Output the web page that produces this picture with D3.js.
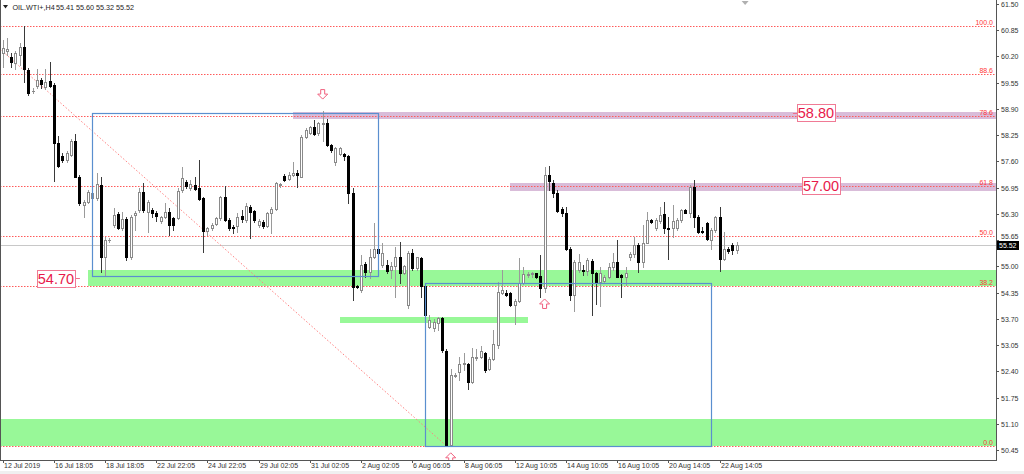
<!DOCTYPE html>
<html><head><meta charset="utf-8">
<script src="https://cdn.jsdelivr.net/npm/d3@7"></script>
<style>
html,body{margin:0;padding:0;background:#fff;}
svg{display:block;}
text{font-family:"Liberation Sans",Arial,sans-serif;}
</style></head><body>
<svg id="c" width="1024" height="474"></svg>
<script>
// ---------------- data ----------------
const symbolLabel = "OIL.WTI+,H4";
const lastQuote = [55.41, 55.60, 55.32, 55.52]; // O H L C of current bar

const opens = [60.28,60.32,60.19,60.04,60.23,60.44,59.86,59.33,59.47,59.61,
59.45,59.59,59.49,58.05,57.73,57.63,57.76,58.09,57.22,56.52,
56.60,56.68,56.68,57.01,55.24,55.64,56.02,56.29,55.94,56.17,
55.22,56.26,56.39,56.85,56.35,56.39,56.33,56.11,56.23,56.35,
56.19,56.19,56.89,57.09,56.95,57.01,56.95,56.68,55.88,55.94,
56.05,56.19,56.72,56.15,55.98,56.00,56.24,56.15,56.48,56.37,
56.02,56.10,56.00,56.31,56.42,57.01,57.24,57.15,57.26,57.30,
57.22,58.21,58.31,58.44,58.29,58.52,58.56,58.00,57.57,57.78,
57.78,57.73,56.81,54.51,54.40,55.06,54.87,55.24,55.44,55.03,
55.03,54.91,55.01,55.24,54.83,54.04,55.32,54.95,55.20,54.50,
53.50,53.46,53.59,53.71,52.91,50.57,52.28,52.39,52.58,52.58,
52.14,52.72,52.76,52.84,52.45,52.70,53.05,54.35,54.35,54.33,
54.04,54.15,54.59,54.78,54.80,54.83,54.76,54.45,57.26,57.07,
56.82,56.43,56.31,55.44,54.29,54.91,54.92,54.89,55.14,54.83,
54.62,54.64,54.74,54.97,55.11,54.78,54.74,55.22,55.30,55.53,
55.11,55.58,56.15,55.94,56.13,56.30,55.96,55.94,55.94,56.15,
56.39,56.33,56.96,56.23,55.88,56.06,55.65,55.90,56.23,55.17,
55.44,55.53,55.41];
const highs = [60.60,60.65,60.27,60.34,60.54,60.95,59.90,59.41,59.88,59.66,
59.88,60.07,59.53,58.23,57.80,57.86,58.15,58.28,57.26,56.64,
56.89,56.85,57.32,57.22,55.73,55.69,56.44,56.35,56.35,56.23,
56.27,56.38,56.93,57.05,56.64,56.44,56.38,56.25,56.56,56.44,
56.23,56.93,57.47,57.13,57.14,57.22,57.63,56.71,55.98,56.06,
56.23,56.74,56.99,56.19,56.02,56.31,56.39,56.56,56.52,56.39,
56.16,56.15,56.35,56.48,57.09,57.07,57.28,57.34,57.57,57.38,
58.25,58.42,58.47,58.61,58.58,58.85,58.64,58.04,57.96,57.96,
57.81,57.76,56.93,54.54,55.28,55.11,55.42,56.06,55.50,55.57,
55.16,55.11,55.47,55.61,55.03,55.39,55.42,55.24,55.24,54.51,
53.79,53.69,53.75,53.75,52.94,52.45,52.35,52.75,52.84,52.60,
52.97,52.94,53.03,52.88,52.76,53.42,54.62,54.91,54.40,54.37,
54.18,55.20,54.99,54.87,54.87,54.84,55.28,57.47,57.48,57.14,
56.89,56.48,56.48,55.47,55.16,55.30,55.03,55.20,55.17,54.87,
54.99,54.78,55.07,55.34,55.65,54.82,54.97,55.36,55.73,55.57,
56.02,56.35,56.16,56.19,56.48,56.60,56.23,56.52,56.19,56.43,
56.43,57.01,57.14,56.27,55.98,56.10,55.94,56.24,56.48,55.86,
55.47,55.57,55.60];
const lows = [59.94,60.23,59.94,59.88,59.99,59.57,59.24,59.28,59.41,59.41,
59.38,59.45,57.10,57.47,57.59,57.59,57.72,57.20,56.52,56.23,
56.56,56.66,56.64,54.87,54.78,55.59,55.98,55.92,55.90,55.16,
55.17,55.90,56.35,56.35,55.86,56.23,56.11,56.08,56.19,55.78,
55.90,56.16,56.85,56.95,56.89,56.89,56.64,55.35,55.77,55.90,
56.02,56.15,56.13,55.90,55.83,55.86,56.10,56.10,55.69,56.10,
55.98,55.94,55.98,55.82,56.39,56.97,57.12,57.14,57.24,56.97,
57.20,58.17,58.27,58.25,58.25,58.09,57.98,57.84,57.51,57.76,
57.63,56.56,54.16,54.45,54.37,54.73,54.70,55.20,55.28,54.99,
54.83,54.70,54.25,54.59,54.81,53.96,54.92,54.91,54.23,53.77,
53.46,53.40,53.42,52.88,50.55,50.55,52.25,52.18,52.42,51.95,
52.12,52.68,52.72,52.39,52.42,52.68,52.97,54.31,54.26,54.02,
53.57,54.12,54.56,54.74,54.73,54.70,54.23,54.37,56.89,56.72,
56.35,56.24,55.40,54.17,53.90,54.87,54.78,54.78,53.79,54.07,
54.02,54.59,54.70,54.91,54.73,54.23,54.54,55.16,55.24,54.87,
54.99,55.57,56.08,55.90,56.06,55.82,55.17,55.72,55.90,56.10,
56.31,56.21,55.98,55.83,55.82,55.65,55.44,55.86,54.89,55.16,
55.32,55.30,55.32];
const closes = [60.41,60.37,60.07,60.27,60.44,59.88,59.30,59.35,59.61,59.51,
59.57,59.47,58.05,57.49,57.63,57.81,58.11,57.22,56.56,56.60,
56.83,56.82,57.03,55.24,55.64,55.65,56.27,55.94,56.16,55.22,
56.23,56.31,56.85,56.39,56.60,56.33,56.25,56.23,56.34,56.02,
56.01,56.87,57.18,56.98,57.04,56.91,56.66,55.88,55.94,56.02,
56.20,56.71,56.15,55.94,55.95,56.23,56.16,56.49,56.35,56.15,
56.12,56.00,56.33,56.43,57.05,57.04,57.14,57.26,57.32,57.25,
58.21,58.37,58.44,58.27,58.54,58.56,58.00,57.88,57.92,57.92,
57.73,56.81,54.49,54.48,55.03,54.87,55.24,55.44,55.32,55.32,
54.89,55.01,55.24,54.83,55.01,55.32,54.95,55.22,54.50,53.79,
53.67,53.63,53.71,52.93,50.57,52.31,52.31,52.58,52.61,52.14,
52.75,52.76,52.91,52.43,52.70,53.07,54.37,54.41,54.29,54.04,
54.15,54.59,54.81,54.81,54.83,54.73,54.45,57.26,57.10,56.81,
56.38,56.31,55.44,54.29,55.11,55.11,54.88,55.16,54.83,54.62,
54.83,54.73,54.99,55.11,54.74,54.74,54.84,55.30,55.53,55.11,
55.58,56.15,56.10,56.15,56.27,55.96,55.93,56.13,56.15,56.39,
56.33,56.96,56.23,55.86,55.86,55.67,55.91,56.21,55.17,55.44,
55.39,55.40,55.52];

const timeLabels = ["12 Jul 2019","16 Jul 18:05","18 Jul 18:05","22 Jul 22:05","24 Jul 22:05",
"29 Jul 02:05","31 Jul 02:05","2 Aug 02:05","6 Aug 06:05","8 Aug 06:05",
"12 Aug 10:05","14 Aug 10:05","16 Aug 10:05","20 Aug 14:05","22 Aug 14:05"];
const barsPerTimeLabel = 12;
const priceTicks = [61.50,60.85,60.20,59.55,58.90,58.25,57.60,56.95,56.30,55.65,55.00,54.35,53.70,53.05,52.40,51.75,51.10,50.45];

const fibLevels = [100.0, 88.6, 78.6, 61.8, 50.0, 38.2, 0.0];
const fibHigh = {bar: -6.7, price: 60.95};
const fibLow  = {bar: 104, price: 50.55};

const greenZones = [
  {from: 20, to: null, lo: 54.51, hi: 54.91},
  {from: 79, to: 123, lo: 53.60, hi: 53.74},
  {from: -1, to: null, lo: 50.55, hi: 51.21}
];
const purpleZones = [
  {from: 68, to: null, lo: 58.64, hi: 58.81},
  {from: 119, to: null, lo: 56.87, hi: 57.07}
];
const boxes = [
  {from: 21, to: 88, lo: 54.75, hi: 58.80},
  {from: 99, to: 166, lo: 50.55, hi: 54.59}
];
const levelLabels = [
  {value: 54.70, bar: 18.1, side: "left"},
  {value: 58.80, bar: 185.2, side: "right"},
  {value: 57.00, bar: 186.4, side: "right"}
];
const arrows = [
  {bar: 75, price: 59.14, dir: "down"},
  {bar: 127, price: 54.19, dir: "up"},
  {bar: 105, price: 50.38, dir: "up"}
];
const shiftMarkerBar = 174;

// ---------------- layout ----------------
const W = 1024, H = 474;
const plotR = 996, plotB = 460;
const step = 4.267;
const x = d3.scaleLinear().domain([0, 233]).range([2.67, 2.67 + 233 * step]);
const y = d3.scaleLinear().domain([50.45, 61.50]).range([450, 3.8]);

const svg = d3.select("#c");
svg.append("rect").attr("width", W).attr("height", H).attr("fill", "#fff");
svg.append("rect").attr("x", 0).attr("y", 471).attr("width", W).attr("height", 3).attr("fill", "#f0f0f0");

const defs = svg.append("defs");
defs.append("clipPath").attr("id", "clip").append("rect")
  .attr("x", 0).attr("y", 0).attr("width", plotR).attr("height", plotB);

const plot = svg.append("g").attr("clip-path", "url(#clip)");
const xL = v => (v == null ? plotR : (v < 0 ? 0 : x(v)));
const px = v => Math.round(v);

// zones
plot.selectAll("rect.gz").data(greenZones).join("rect").attr("class", "gz")
  .attr("x", d => px(xL(d.from))).attr("width", d => px(xL(d.to)) - px(xL(d.from)))
  .attr("y", d => px(y(d.hi))).attr("height", d => px(y(d.lo)) - px(y(d.hi)))
  .attr("fill", "#98f898");
plot.selectAll("rect.pz").data(purpleZones).join("rect").attr("class", "pz")
  .attr("x", d => px(xL(d.from))).attr("width", d => px(xL(d.to)) - px(xL(d.from)))
  .attr("y", d => px(y(d.hi))).attr("height", d => px(y(d.lo)) - px(y(d.hi)))
  .attr("fill", "#d9bcd9");

// bid line
plot.append("line").attr("x1", 0).attr("x2", plotR)
  .attr("y1", px(y(lastQuote[3])) + 0.5).attr("y2", px(y(lastQuote[3])) + 0.5)
  .attr("stroke", "#c8c8c8").attr("stroke-width", 1);

// fib levels
const fibPrice = l => fibLow.price + (fibHigh.price - fibLow.price) * l / 100;
plot.selectAll("line.fib").data(fibLevels).join("line").attr("class", "fib")
  .attr("x1", 0).attr("x2", plotR)
  .attr("y1", d => px(y(fibPrice(d))) + 0.5).attr("y2", d => px(y(fibPrice(d))) + 0.5)
  .attr("stroke", "#ff5a5a").attr("stroke-width", 1).attr("stroke-dasharray", "1.5,1.5");
plot.selectAll("text.fibt").data(fibLevels).join("text").attr("class", "fibt")
  .attr("x", 993).attr("y", d => px(y(fibPrice(d))) - 1)
  .attr("text-anchor", "end").attr("font-size", 7).attr("fill", "#ff3838")
  .text(d => d3.format(".1f")(d));
// fib trend line
plot.append("line")
  .attr("x1", x(fibHigh.bar)).attr("y1", y(fibHigh.price))
  .attr("x2", x(fibLow.bar)).attr("y2", y(fibLow.price))
  .attr("stroke", "#ff8080").attr("stroke-width", 1).attr("stroke-dasharray", "1.5,2");

// candles
const idx = d3.range(opens.length);
const cg = plot.append("g");
idx.forEach(i => {
  const o = opens[i], c = closes[i], h = highs[i], l = lows[i];
  const bull = c >= o;
  const cx = px(x(i));
  cg.append("line").attr("x1", cx + 0.5).attr("x2", cx + 0.5)
    .attr("y1", px(y(h))).attr("y2", px(y(l)) + 1)
    .attr("stroke", bull ? "#9a9a9a" : "#3a3a3a").attr("stroke-width", 1);
  const yt = px(y(Math.max(o, c))), yb = px(y(Math.min(o, c)));
  if (yb - yt < 1) {
    cg.append("line").attr("x1", cx - 1).attr("x2", cx + 2)
      .attr("y1", yt + 0.5).attr("y2", yt + 0.5)
      .attr("stroke", bull ? "#888" : "#000").attr("stroke-width", 1);
  } else {
    cg.append("rect").attr("x", cx - 0.5).attr("width", 2)
      .attr("y", yt + 0.5).attr("height", Math.max(yb - yt, 1))
      .attr("fill", bull ? "#fff" : "#000")
      .attr("stroke", bull ? "#8a8a8a" : "#000").attr("stroke-width", 1);
  }
});

// boxes
plot.selectAll("rect.box").data(boxes).join("rect").attr("class", "box")
  .attr("x", d => px(x(d.from)) + 0.5).attr("width", d => px(x(d.to)) - px(x(d.from)))
  .attr("y", d => px(y(d.hi)) + 0.5).attr("height", d => px(y(d.lo)) - px(y(d.hi)))
  .attr("fill", "none").attr("stroke", "#5a8fcf").attr("stroke-width", 1.2);

// arrows
arrows.forEach(a => {
  const cx = x(a.bar), ty = y(a.price);
  const s = a.dir === "up" ? 1 : -1;
  const p = d3.path();
  p.moveTo(cx, ty);
  p.lineTo(cx + 5, ty + s * 5);
  p.lineTo(cx + 2, ty + s * 5);
  p.lineTo(cx + 2, ty + s * 9.5);
  p.lineTo(cx - 2, ty + s * 9.5);
  p.lineTo(cx - 2, ty + s * 5);
  p.lineTo(cx - 5, ty + s * 5);
  p.closePath();
  plot.append("path").attr("d", p.toString()).attr("fill", "#fff")
    .attr("stroke", "#f0607e").attr("stroke-width", 1);
});

// level labels
levelLabels.forEach(L => {
  const ax = x(L.bar), ay = y(L.value);
  const bw = 38, bh = 17, dash = 5;
  const bx = L.side === "left" ? ax - dash - bw : ax + dash - 1;
  plot.append("line").attr("x1", L.side === "left" ? ax - dash : ax).attr("x2", L.side === "left" ? ax : ax + dash)
    .attr("y1", px(ay) + 0.5).attr("y2", px(ay) + 0.5).attr("stroke", "#f0708c");
  plot.append("rect").attr("x", px(bx) + 0.5).attr("y", px(ay - bh / 2) + 0.5)
    .attr("width", bw).attr("height", bh).attr("fill", "#fff").attr("stroke", "#f07a95");
  plot.append("text").attr("x", bx + bw / 2).attr("y", ay + 5.3)
    .attr("text-anchor", "middle").attr("font-size", 14.5).attr("fill", "#e8194b")
    .text(d3.format(".2f")(L.value));
});

// shift marker
svg.append("path")
  .attr("d", `M${x(shiftMarkerBar) - 3.5},1 L${x(shiftMarkerBar) + 3.5},1 L${x(shiftMarkerBar)},5 Z`)
  .attr("fill", "#b0b0b0");

// axes
const xa = d3.axisBottom(x)
  .tickValues(timeLabels.map((_, i) => i * barsPerTimeLabel))
  .tickFormat((d, i) => timeLabels[i]).tickSize(3).tickSizeOuter(0);
const gx = svg.append("g").attr("transform", `translate(0,${plotB})`).call(xa);
gx.select(".domain").remove();
gx.selectAll(".tick line").attr("stroke", "#555").attr("transform", "translate(0.5,0)");
gx.selectAll(".tick").attr("transform", d => `translate(${px(x(d))},0)`);
gx.selectAll("text").attr("text-anchor", "start").attr("x", 1).attr("y", 3)
  .attr("font-size", 7).attr("fill", "#333").attr("font-family", "Liberation Sans, Arial, sans-serif");

const bidY = px(y(lastQuote[3]));
const ya = d3.axisRight(y).tickValues(priceTicks).tickFormat(d3.format(".2f")).tickSize(3).tickSizeOuter(0);
const gy = svg.append("g").attr("transform", `translate(${plotR},0)`).call(ya);
gy.select(".domain").remove();
gy.selectAll(".tick").attr("transform", d => `translate(0,${px(y(d)) + 0.5})`);
gy.selectAll(".tick line").attr("stroke", "#555");
gy.selectAll("text").attr("x", 5).attr("font-size", 7).attr("fill", "#333")
  .attr("font-family", "Liberation Sans, Arial, sans-serif")
  // keep the label just above the current-price box when the two would collide
  .attr("y", d => (Math.abs(px(y(d)) - bidY) < 9 ? -(9 - Math.abs(px(y(d)) - bidY)) : 0));

// current price box
svg.append("rect").attr("x", 997).attr("y", bidY - 4).attr("width", 22).attr("height", 9).attr("fill", "#000");
svg.append("text").attr("x", 999).attr("y", bidY + 2.5).attr("font-size", 7).attr("fill", "#fff")
  .text(d3.format(".2f")(lastQuote[3]));

// frame
svg.append("line").attr("x1", plotR + 0.5).attr("x2", plotR + 0.5).attr("y1", 0).attr("y2", plotB + 1).attr("stroke", "#555");
svg.append("line").attr("x1", 0).attr("x2", plotR + 1).attr("y1", plotB + 0.5).attr("y2", plotB + 0.5).attr("stroke", "#555");
svg.append("line").attr("x1", 0.5).attr("x2", 0.5).attr("y1", 0).attr("y2", plotB + 1).attr("stroke", "#555");

// header
svg.append("path").attr("d", "M3,5 L8,5 L5.5,8.5 Z").attr("fill", "#222");
svg.append("text").attr("x", 12.5).attr("y", 10).attr("font-size", 7.2).attr("fill", "#222")
  .text(symbolLabel);
svg.append("text").attr("x", 56).attr("y", 10).attr("font-size", 7.2).attr("fill", "#222")
  .text(lastQuote.map(d3.format(".2f")).join(" "));
</script>
</body></html>
